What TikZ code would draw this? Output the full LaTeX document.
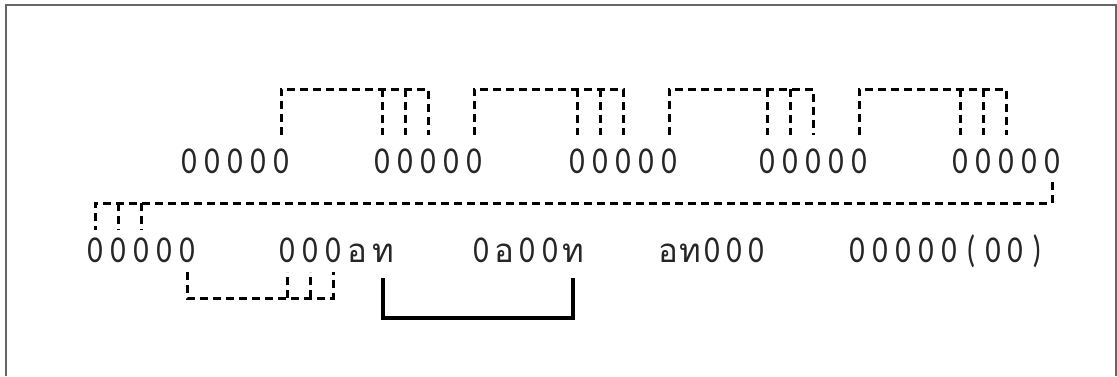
\documentclass[tikz,border=0pt]{standalone}
\usepackage{fontspec}
\setmainfont[FakeStretch=0.8]{Carlito}
\newfontfamily\thaifont[Script=Thai]{Loma}
\begin{document}
\begin{tikzpicture}[x=1pt,y=-1pt,
  ch/.style={anchor=base,inner sep=0pt,text=black!85,font=\fontsize{38}{44}\selectfont},
  th/.style={anchor=base,inner sep=0pt,text=black!85,font=\thaifont\fontsize{33}{40}\selectfont},
  dsh/.style={draw=black,line width=3pt,dash pattern=on 8pt off 5pt},
  sol/.style={draw=black,line width=3.4pt},
  frame/.style={draw=black!60,line width=1.5pt}]
\useasboundingbox (0,0) rectangle (1117,376);
\draw[frame] (6,376) -- (6,5) -- (1116,5) -- (1116,376);
% row 1
\foreach \g/\s in {1/189,2/382,3/577,4/767,5/960}{
  \foreach \i in {1,...,5}{
    \node[ch] (r\g-\i) at ({\s+23*(\i-1)},173) {0};
  }
}
% row 2
\foreach \x [count=\i] in {95,118,141,164,187}{\node[ch] (s1-\i) at (\x,262) {0};}
\node[ch] (s2-1) at (287,262) {0};
\node[ch] (s2-2) at (310,262) {0};
\node[ch] (s2-3) at (333,262) {0};
\node[th] (s2-4) at (357,262) {อ};
\node[th] (s2-5) at (383,262) {ท};
\node[ch] (s3-1) at (481,262) {0};
\node[th] (s3-2) at (504,262) {อ};
\node[ch] (s3-3) at (527,262) {0};
\node[ch] (s3-4) at (550,262) {0};
\node[th] (s3-5) at (573,262) {ท};
\node[th] (s4-1) at (668,262) {อ};
\node[th] (s4-2) at (690,262) {ท};
\node[ch] (s4-3) at (712,262) {0};
\node[ch] (s4-4) at (734,262) {0};
\node[ch] (s4-5) at (756,262) {0};
\foreach \x/\c [count=\i] in {857/0,880/0,903/0,926/0,949/0,971/(,993/0,1015/0,1037/)}{
  \node[ch] (s5-\i) at (\x,262) {\c};
}
% level coordinates
\coordinate (hi) at (0,89);
\coordinate (lo) at (0,135);
\coordinate (m1) at (0,182);
\coordinate (m2) at (0,203);
\coordinate (m3) at (0,230);
\coordinate (l1) at (0,272);
\coordinate (l2) at (0,298);
\coordinate (k1) at (0,278);
\coordinate (k2) at (0,318);
% top brackets
\foreach \a/\b in {1/2,2/3,3/4,4/5}{
  \draw[dsh] (r\a-5 |- lo) -- (r\a-5 |- hi) -- (r\b-3 |- hi) -- (r\b-3 |- lo);
  \draw[dsh] (r\b-1 |- hi) -- (r\b-1 |- lo);
  \draw[dsh] (r\b-2 |- hi) -- (r\b-2 |- lo);
}
% long link
\draw[dsh] (r5-5 |- m1) -- (r5-5 |- m2) -- (s1-1 |- m2) -- (s1-1 |- m3);
\draw[dsh] (s1-2 |- m2) -- (s1-2 |- m3);
\draw[dsh] (s1-3 |- m2) -- (s1-3 |- m3);
% lower bracket
\draw[dsh] (s1-5 |- l1) -- (s1-5 |- l2) -- (s2-3 |- l2) -- (s2-3 |- l1);
\draw[dsh] (s2-1 |- l2) -- (s2-1 |- l1);
\draw[dsh] (s2-2 |- l2) -- (s2-2 |- l1);
% solid bracket
\draw[sol] (s2-5 |- k1) -- (s2-5 |- k2) -- (s3-5 |- k2) -- (s3-5 |- k1);
\end{tikzpicture}
\end{document}
